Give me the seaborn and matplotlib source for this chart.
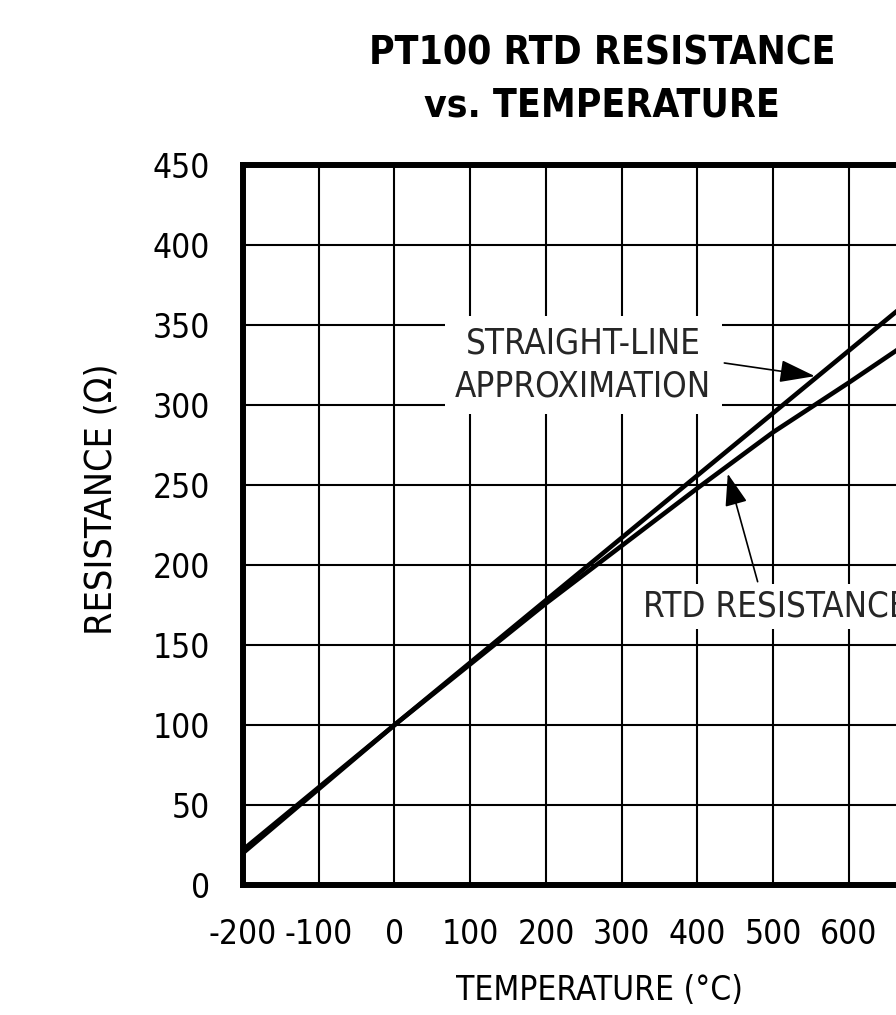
import numpy as np
import pandas as pd
import matplotlib
matplotlib.use("Agg")
import matplotlib.pyplot as plt
import seaborn as sns

# valores (ohm vs grados C)
temps = [-200, -100, 0, 100, 200, 300, 400, 500, 600, 700, 800]
rtd_ohms = [20, 60, 100, 138, 176, 212, 248, 283, 314, 346, 377]
straight_ohms = [22, 61, 100, 139, 178, 217, 256, 295, 334, 373, 412]
x_ticks = list(range(-200, 801, 100))
y_ticks = list(range(0, 451, 50))

df = pd.DataFrame({
    "temp": temps * 2,
    "ohms": rtd_ohms + straight_ohms,
    "curve": ["rtd"] * len(temps) + ["straight"] * len(temps),
})

sns.set_style("white")
plt.rcParams["font.family"] = ["DejaVu Sans Condensed", "DejaVu Sans"]
plt.rcParams["font.stretch"] = "condensed"
plt.rcParams["axes.unicode_minus"] = False

fig = plt.figure(figsize=(8.96, 10.15), dpi=100)
ax = fig.add_axes([0.2712, 0.1281, 0.8454, 0.7094])

sns.lineplot(data=df, x="temp", y="ohms", hue="curve", palette=["black", "black"],
             linewidth=3.3, legend=False, ax=ax, zorder=3)

ax.set_xlim(-200, 800)
ax.set_ylim(0, 450)
ax.set_xticks(x_ticks)
ax.set_yticks(y_ticks)
ax.grid(True, color="black", linewidth=1.5)
ax.set_axisbelow(True)
for sp in ax.spines.values():
    sp.set_linewidth(4.3)
    sp.set_color("black")
ax.tick_params(axis="both", length=0, labelsize=24, colors="black")
ax.tick_params(axis="x", pad=24)
ax.tick_params(axis="y", pad=24)

ax.set_xlabel("TEMPERATURE (°C)", fontsize=24, color="black")
ax.set_ylabel("RESISTANCE (Ω)", fontsize=27, color="black")
ax.xaxis.set_label_coords(0.471, -0.124)
ax.yaxis.set_label_coords(-0.163, 0.536)

fig.text(0.672, 0.966, "PT100 RTD RESISTANCE\nvs. TEMPERATURE", ha="center", va="top",
         fontsize=28, fontweight="bold", linespacing=1.45, color="black")

box = dict(boxstyle="square,pad=0.3", facecolor="white", edgecolor="none")
ax.annotate("STRAIGHT-LINE\nAPPROXIMATION", xy=(555, 318), xytext=(249, 325),
            ha="center", va="center", multialignment="center", fontsize=25,
            linespacing=1.35, bbox=box, zorder=4,
            arrowprops=dict(arrowstyle="-|>,head_length=1.1,head_width=0.35",
                            mutation_scale=20, color="black", lw=1.2,
                            relpos=(1.0, 0.55), shrinkB=0))
ax.annotate("RTD RESISTANCE", xy=(440, 257), xytext=(328, 174),
            ha="left", va="center", fontsize=25,
            bbox=dict(boxstyle="square,pad=0.15", facecolor="white", edgecolor="none"),
            zorder=4,
            arrowprops=dict(arrowstyle="-|>,head_length=1.0,head_width=0.35",
                            mutation_scale=20, color="black", lw=1.2,
                            relpos=(0.44, 1.0), shrinkB=0))

fig.savefig("out.png", dpi=100)
